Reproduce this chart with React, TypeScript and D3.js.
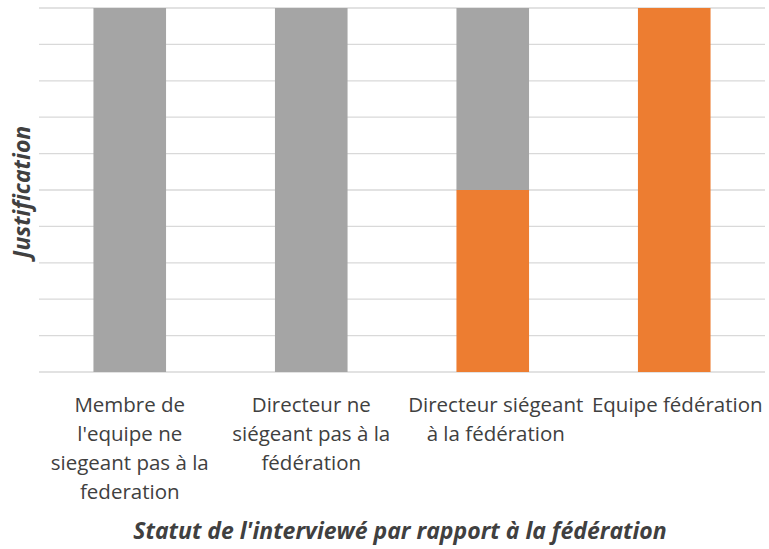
import { scaleBand, scaleLinear, stack, range } from "d3";

const categories = [
  "Membre de l'equipe ne siegeant pas à la federation",
  "Directeur ne siégeant pas à la fédération",
  "Directeur siégeant à la fédération",
  "Equipe fédération",
];
// wrapped tick labels as they appear under each bar
const tickLabels = [
  ["Membre de", "l'equipe ne", "siegeant pas à la", "federation"],
  ["Directeur ne", "siégeant pas à la", "fédération"],
  ["Directeur siégeant", "à la fédération"],
  ["Equipe fédération"],
];
const orangeValues = [0, 0, 50, 100];
const grayValues = [100, 100, 50, 0];
const yTicks = range(0, 101, 10);

const W = 769;
const H = 549;
const left = 39;
const right = 765;
const top = 8;
const bottom = 372;

export default function App() {
  const x = scaleBand<string>()
    .domain(categories)
    .range([left, right])
    .paddingInner(0.6)
    .paddingOuter(0.3);
  const y = scaleLinear().domain([0, 100]).range([bottom, top]);

  const rows = categories.map((c, i) => ({ cat: c, orange: orangeValues[i], gray: grayValues[i] }));
  const series = stack<any>().keys(["orange", "gray"])(rows);
  const colors: Record<string, string> = { orange: "#ED7D31", gray: "#A5A5A5" };

  const font = "'Open Sans', sans-serif";

  return (
    <svg width={W} height={H} style={{ position: "absolute", left: 0, top: 0 }} fontFamily={font}>
      <rect width={W} height={H} fill="#fff" />
      {yTicks.map((t) => (
        <line key={t} x1={left} x2={right} y1={y(t)} y2={y(t)} stroke="#D9D9D9" strokeWidth={1.3} />
      ))}
      {series.map((s) =>
        s.map((d, i) =>
          d[1] - d[0] > 0 ? (
            <rect
              key={s.key + i}
              x={x(categories[i])}
              width={x.bandwidth()}
              y={y(d[1])}
              height={y(d[0]) - y(d[1])}
              fill={colors[s.key]}
            />
          ) : null
        )
      )}
      {tickLabels.map((lines, i) => {
        const cx = (x(categories[i]) as number) + x.bandwidth() / 2 + (i >= 2 ? 3 : 0);
        return (
          <text key={i} x={cx} y={412} textAnchor="middle" fontSize={20.5} fill="#404040">
            {lines.map((l, j) => (
              <tspan key={j} x={cx} dy={j === 0 ? 0 : 29}>
                {l}
              </tspan>
            ))}
          </text>
        );
      })}
      <text
        x={400}
        y={539}
        textAnchor="middle"
        fontSize={23}
        fontWeight="bold"
        fontStyle="italic"
        fill="#404040"
      >
        Statut de l'interviewé  par rapport à la fédération
      </text>
      <text
        transform={`translate(30, 192) rotate(-90)`}
        textAnchor="middle"
        fontSize={23}
        fontWeight="bold"
        fontStyle="italic"
        fill="#404040"
      >
        Justification
      </text>
    </svg>
  );
}
